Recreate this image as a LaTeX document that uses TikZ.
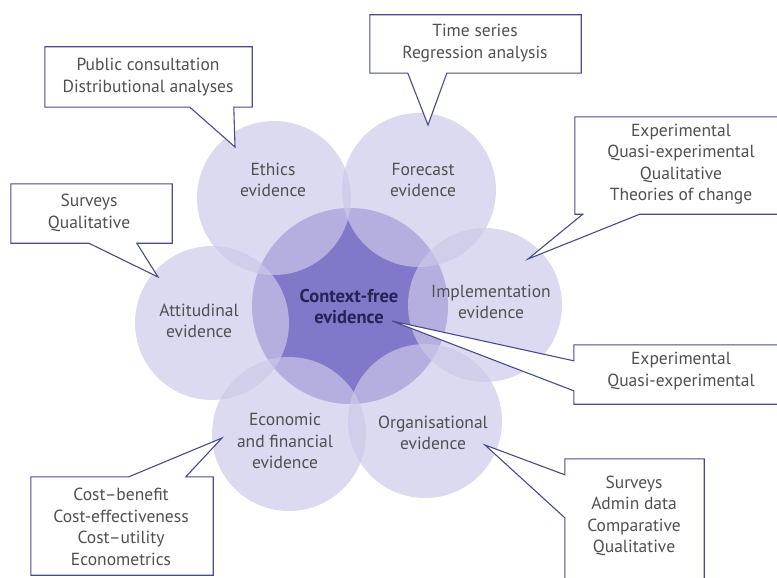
\documentclass[tikz,border=0pt]{standalone}
\usepackage{fontspec}
\setmainfont{PT Sans}
\definecolor{petalfill}{RGB}{204,201,233}
\definecolor{corefill}{RGB}{128,120,200}
\definecolor{calloutline}{RGB}{72,76,138}
\definecolor{labeltext}{RGB}{80,80,80}
\definecolor{coretext}{RGB}{38,36,84}
\begin{document}
\begin{tikzpicture}[x=1pt,y=-1pt,
    core/.style={circle,fill=corefill,minimum size=196pt,inner sep=0pt},
    petal/.style={circle,fill=petalfill,fill opacity=0.69,minimum size=154pt,inner sep=0pt},
    petaltext/.style={align=center,text=labeltext,inner sep=0pt,font=\fontsize{17.5}{21.5}\selectfont},
    box/.style={minimum width=#1,inner sep=0pt},
    callout/.style={draw=calloutline,fill=white,line width=1.1pt,line join=miter},
    boxtext/.style={align=center,text=labeltext,inner sep=0pt,font=\fontsize{17.5}{21.5}\selectfont}]
  \useasboundingbox (0,0) rectangle (777,578);
  \clip (0,0) rectangle (777,578);

  % the flower
  \node[core] (core) at (350,306) {};
  \node[petal] (ethics) at (274,198) {};
  \node[petal] (forecast) at (419,190) {};
  \node[petal] (implementation) at (485,305) {};
  \node[petal] (organisational) at (425,421) {};
  \node[petal] (economic) at (289,434) {};
  \node[petal] (attitudinal) at (212,323) {};

  \node[petaltext] (ethicsText) at (273,180) {Ethics\\evidence};
  \node[petaltext] (forecastText) at (423,180) {Forecast\\evidence};
  \node[petaltext] (implementationText) at (491,302) {Implementation\\evidence};
  \node[petaltext] (organisationalText) at (433,433) {Organisational\\evidence};
  \node[petaltext] (economicText) at (285,441) {Economic\\and financial\\evidence};
  \node[petaltext] (attitudinalText) at (199,321) {Attitudinal\\evidence};
  \node[petaltext,text=coretext,font=\fontsize{18.5}{21}\selectfont\bfseries] (coreText) at (349,307) {Context-free\\evidence};

  % callout boxes
  \node[box=207pt,minimum height=60pt] (pubBox) at (148.5,77) {};
  \node[box=211pt,minimum height=58pt] (timeBox) at (475.5,44) {};
  \node[box=215pt,minimum height=97pt] (impBox) at (682.5,165.5) {};
  \node[box=161pt,minimum height=59pt] (survBox) at (91.5,213.5) {};
  \node[box=216pt,minimum height=59pt] (expBox) at (682,374.5) {};
  \node[box=182pt,minimum height=98pt] (costBox) at (122,526) {};
  \node[box=139pt,minimum height=126pt] (orgBox) at (634.5,522) {};

  \coordinate (pubTip) at (235,147);
  \coordinate (timeTip) at (428,125);
  \coordinate (impTip) at (528,259);
  \coordinate (survTip) at (158,277);
  \coordinate (expTip) at (392,321);
  \coordinate (costTip) at (222,438);
  \coordinate (orgTip) at (485,445);

  \draw[callout] (pubBox.south west) -- (pubBox.north west) -- (pubBox.north east) -- (pubBox.south east)
    -- ([xshift=189pt]pubBox.south west) -- (pubTip) -- ([xshift=145pt]pubBox.south west) -- cycle;
  \draw[callout] (timeBox.south west) -- (timeBox.north west) -- (timeBox.north east) -- (timeBox.south east)
    -- ([xshift=77pt]timeBox.south west) -- (timeTip) -- ([xshift=38pt]timeBox.south west) -- cycle;
  \draw[callout] (impBox.south west) -- (impBox.north west) -- (impBox.north east) -- (impBox.south east)
    -- ([xshift=65pt]impBox.south west) -- (impTip) -- ([xshift=8pt]impBox.south west) -- cycle;
  \draw[callout] (survBox.south west) -- (survBox.north west) -- (survBox.north east) -- (survBox.south east)
    -- ([xshift=126pt]survBox.south west) -- (survTip) -- ([xshift=78pt]survBox.south west) -- cycle;
  \draw[callout] (expBox.north west) -- (expBox.north east) -- (expBox.south east) -- (expBox.south west)
    -- ([yshift=-46pt]expBox.north west) -- (expTip) -- ([yshift=-16pt]expBox.north west) -- cycle;
  \draw[callout] (costBox.south west) -- (costBox.north west) -- ([xshift=98pt]costBox.north west) -- (costTip)
    -- ([xshift=155pt]costBox.north west) -- (costBox.north east) -- (costBox.south east) -- cycle;
  \draw[callout] (orgBox.north west) -- (orgBox.north east) -- (orgBox.south east) -- (orgBox.south west)
    -- ([yshift=-59pt]orgBox.north west) -- (orgTip) -- ([yshift=-16pt]orgBox.north west) -- cycle;

  \node[boxtext] (pubText) at (148,77) {Public consultation\\Distributional analyses};
  \node[boxtext] (timeText) at (475,43) {Time series\\Regression analysis};
  \node[boxtext] (impText) at (681,164) {Experimental\\Quasi-experimental\\Qualitative\\Theories of change};
  \node[boxtext] (survText) at (89,213) {Surveys\\Qualitative};
  \node[boxtext] (expText) at (681,371) {Experimental\\Quasi-experimental};
  \node[boxtext] (costText) at (121,527) {Cost--benefit\\Cost-effectiveness\\Cost--utility\\Econometrics};
  \node[boxtext] (orgText) at (634,516) {Surveys\\Admin data\\Comparative\\Qualitative};
\end{tikzpicture}
\end{document}
